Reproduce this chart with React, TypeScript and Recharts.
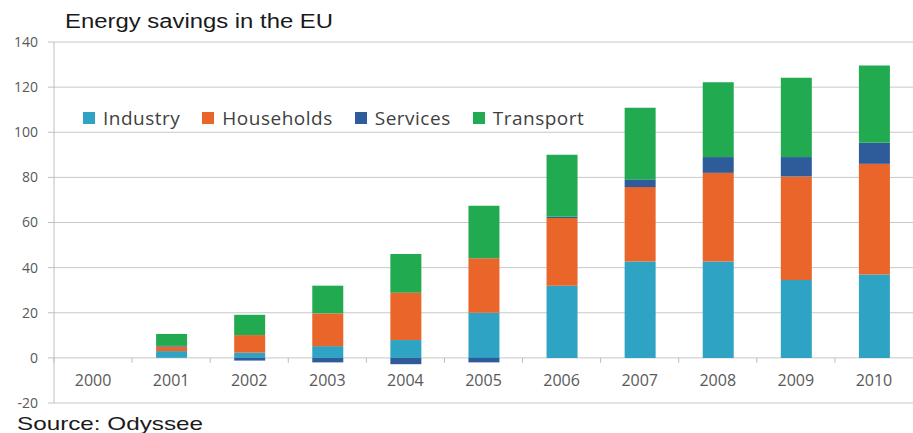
import { BarChart, Bar, XAxis, YAxis, CartesianGrid } from "recharts";

const years = ["2000", "2001", "2002", "2003", "2004", "2005", "2006", "2007", "2008", "2009", "2010"];
const industry = [0, 3, 2.3, 5.2, 7.9, 20, 32, 42.7, 42.7, 34.5, 37];
const households = [0, 2, 7.8, 14.5, 21, 24.2, 30, 33, 39.3, 45.9, 49];
const services = [0, 0.3, -1.2, -2, -2.8, -2, 0.5, 3.4, 7, 8.6, 9.3];
const transport = [0, 5.3, 9, 12.3, 17.1, 23.2, 27.5, 31.8, 33.2, 35.2, 34.3];
const yTicks = [-20, 0, 20, 40, 60, 80, 100, 120, 140];

const series = [
  { key: "industry", name: "Industry", color: "#2fa3c3" },
  { key: "households", name: "Households", color: "#ea6529" },
  { key: "services", name: "Services", color: "#2e5c9b" },
  { key: "transport", name: "Transport", color: "#21aa4f" },
];

const data = years.map((year, i) => ({
  year,
  industry: industry[i],
  households: households[i],
  services: services[i],
  transport: transport[i],
}));

const W = 913;
const H = 433;
const TOP = 42;
const AXIS_H = 30;
const YAXIS_W = 54;
const plotH = H - TOP - AXIS_H;
const band = (W - YAXIS_W) / years.length;
// distance from plot bottom (-20) up to the zero line
const zeroUp = (plotH * 20) / 160;

function YearTick(props: any) {
  const { x, y, payload } = props;
  const zy = y - zeroUp;
  return (
    <g>
      <line x1={x - band / 2} x2={x - band / 2} y1={zy} y2={zy + 5} stroke="#bdbdbd" />
      <text
        x={x}
        y={y - 23}
        textAnchor="middle"
        dominantBaseline="central"
        fontFamily="'Open Sans', sans-serif"
        fontSize={16}
        fill="#595959"
      >
        {payload.value}
      </text>
    </g>
  );
}

function LegendBox() {
  return (
    <div
      style={{
        position: "absolute",
        left: 83,
        top: 105,
        display: "flex",
        alignItems: "center",
        fontFamily: "'Open Sans', sans-serif",
        fontSize: 19,
        letterSpacing: 0.5,
        color: "#3f3f3f",
        whiteSpace: "nowrap",
      }}
    >
      {series.map((s) => (
        <div key={s.key} style={{ display: "flex", alignItems: "center", marginRight: 22 }}>
          <span style={{ width: 12, height: 12, background: s.color, display: "inline-block", marginRight: 8 }} />
          <span>{s.name}</span>
        </div>
      ))}
    </div>
  );
}

export default function App() {
  return (
    <div style={{ position: "absolute", left: 0, top: 0, width: W, height: H, background: "#fff" }}>
      <BarChart
        width={W}
        height={H}
        data={data}
        stackOffset="sign"
        barSize={31}
        margin={{ top: TOP, right: 0, left: 0, bottom: 0 }}
      >
        <CartesianGrid vertical={false} stroke="#c8c8c8" />
        <XAxis
          dataKey="year"
          height={AXIS_H}
          axisLine={false}
          tickLine={false}
          tickSize={0}
          tickMargin={0}
          tick={<YearTick />}
          interval={0}
        />
        <YAxis
          width={YAXIS_W}
          domain={[-20, 140]}
          ticks={yTicks}
          interval={0}
          axisLine={{ stroke: "#c0c0c0" }}
          tickLine={{ stroke: "#c0c0c0" }}
          tickSize={6}
          tickMargin={10}
          tick={{ fontFamily: "'Open Sans', sans-serif", fontSize: 14, fill: "#595959" }}
        />
        {series.map((s) => (
          <Bar key={s.key} dataKey={s.key} name={s.name} stackId="a" fill={s.color} isAnimationActive={false} />
        ))}
      </BarChart>
      <LegendBox />
      <svg width={W} height={H} style={{ position: "absolute", left: 0, top: 0, pointerEvents: "none" }}>
        <text x={65} y={28} fontFamily="'Liberation Sans', Arial, sans-serif" fontSize={20} fill="#1a1a1a" textLength={268} lengthAdjust="spacingAndGlyphs">
          Energy savings in the EU
        </text>
        <text x={17} y={430} fontFamily="'Liberation Sans', Arial, sans-serif" fontSize={19} fill="#1a1a1a" textLength={186} lengthAdjust="spacingAndGlyphs">
          Source: Odyssee
        </text>
      </svg>
    </div>
  );
}
